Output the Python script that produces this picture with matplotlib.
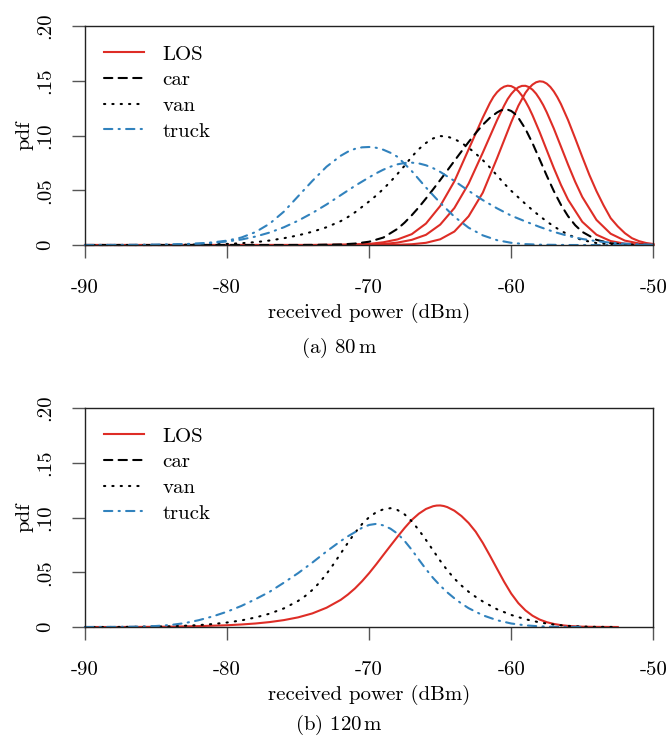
import matplotlib
matplotlib.use("Agg")
import matplotlib.pyplot as plt

plt.rcParams.update({"font.family": ["cmr10", "DejaVu Serif"], "mathtext.fontset": "cm",
                     "axes.unicode_minus": False, "font.size": 15})

C_LOS, C_CAR, C_VAN, C_TRUCK = "#DE2D26", "black", "black", "#3182BD"

# ---------------------------------------------------------------- (a) 80 m
los80_1_dbm = [-90, -74, -72, -70, -69, -68, -67, -66, -65, -64, -63, -62, -61.5, -61.25, -61,
               -60.75, -60.5, -60.25, -60, -59.75, -59.5, -59.25, -59, -58.75, -58.5, -58, -57.5,
               -57, -56.5, -56, -55, -54, -53, -52, -51, -50]
los80_1_pdf = [0, 0, 0.0002, 0.001, 0.0025, 0.0051, 0.0099, 0.0196, 0.0356, 0.0582, 0.0873, 0.1164,
               0.1297, 0.1353, 0.1395, 0.1426, 0.1446, 0.1455, 0.1451, 0.1434, 0.1405, 0.1365,
               0.1313, 0.1253, 0.1184, 0.1031, 0.0866, 0.0702, 0.0549, 0.0414, 0.0212, 0.0094,
               0.0036, 0.0012, 0.0003, 0.0001]
los80_2_dbm = [-90, -74, -71, -69, -68, -67, -66, -65, -64, -63, -62, -61, -60.5, -60.25, -60,
               -59.75, -59.5, -59.25, -59, -58.75, -58.5, -58.25, -58, -57.75, -57.5, -57, -56.5,
               -56, -55.5, -55, -54, -53, -52, -51, -50]
los80_2_pdf = [0, 0, 0.0002, 0.0009, 0.0022, 0.0047, 0.0093, 0.0186, 0.0338, 0.056, 0.0844, 0.1139,
               0.1273, 0.1333, 0.1379, 0.1415, 0.144, 0.1453, 0.1454, 0.1442, 0.1418, 0.1382,
               0.1334, 0.1278, 0.1212, 0.1063, 0.0899, 0.0734, 0.0578, 0.0439, 0.0229, 0.0103,
               0.004, 0.0014, 0.0004]
los80_3_dbm = [-90, -72, -69, -68, -67, -66, -65, -64, -63, -62, -61, -60, -59.5, -59, -58.75,
               -58.5, -58.25, -58, -57.75, -57.5, -57.25, -57, -56.75, -56.5, -56, -55.5, -55,
               -54.5, -54, -53.5, -53, -52.5, -52, -51.5, -51, -50.5, -50]
los80_3_pdf = [0, 0, 0.0001, 0.0002, 0.0007, 0.002, 0.0052, 0.0123, 0.0262, 0.0478, 0.0792, 0.1121,
               0.1271, 0.139, 0.1433, 0.1465, 0.1486, 0.1495, 0.1491, 0.1474, 0.1444, 0.1402,
               0.1349, 0.1287, 0.1141, 0.0975, 0.0805, 0.064, 0.0492, 0.0362, 0.0245, 0.017,
               0.0108, 0.0062, 0.0035, 0.0018, 0.0009]
car80_dbm = [-90, -76, -74, -72, -71, -70, -69, -68, -67.5, -67, -66.5, -66, -65.5, -65, -64.5, -64,
             -63.5, -63, -62.5, -62, -61.5, -61, -60.75, -60.5, -60.25, -60, -59.75, -59.5, -59,
             -58.5, -58, -57.5, -57, -56.5, -56, -55.5, -55, -54, -53, -52, -50]
car80_pdf = [0, 0, 0.0001, 0.0005, 0.0013, 0.003, 0.0068, 0.0148, 0.0205, 0.0272, 0.0345, 0.0425,
             0.0508, 0.0593, 0.068, 0.0768, 0.0855, 0.094, 0.1022, 0.1098, 0.1162, 0.121, 0.1228,
             0.1238, 0.1236, 0.1224, 0.1199, 0.1162, 0.106, 0.0929, 0.0782, 0.0633, 0.0492,
             0.0367, 0.0263, 0.0181, 0.012, 0.0047, 0.0016, 0.0004, 0]
van80_dbm = [-90, -86, -84, -82, -80, -79, -78, -77, -76, -75, -74, -73, -72, -71.5, -71, -70.5, -70,
             -69.5, -69, -68.5, -68, -67.5, -67, -66.5, -66, -65.5, -65, -64.5, -64, -63.5, -63,
             -62.5, -62, -61.5, -61, -60.5, -60, -59.5, -59, -58.5, -58, -57.5, -57, -56.5, -56,
             -55.5, -55, -54, -53, -52, -50]
van80_pdf = [0, 0, 0.0001, 0.0004, 0.001, 0.0016, 0.0026, 0.0041, 0.0062, 0.0088, 0.0121, 0.0162,
             0.0218, 0.0255, 0.0298, 0.0348, 0.0398, 0.0452, 0.0512, 0.0578, 0.065, 0.0725, 0.0806,
             0.0876, 0.0932, 0.0973, 0.0995, 0.099, 0.0968, 0.0933, 0.0888, 0.0835, 0.0775, 0.0708,
             0.0635, 0.0562, 0.0495, 0.0435, 0.0375, 0.0318, 0.0265, 0.0215, 0.017, 0.013, 0.0096,
             0.0068, 0.0045, 0.0018, 0.0006, 0.0002, 0]
truck80_1_dbm = [-90, -86, -84, -83, -82, -81, -80, -79, -78, -77, -76, -75, -74, -73, -72, -71.5,
                 -71, -70.5, -70, -69.5, -69, -68.5, -68, -67, -66, -65, -64, -63, -62, -61, -60,
                 -59, -58, -56, -50]
truck80_1_pdf = [0, 0.0001, 0.0004, 0.0008, 0.0014, 0.0024, 0.004, 0.0068, 0.0118, 0.0195, 0.0305,
                 0.0445, 0.0585, 0.0715, 0.0815, 0.0852, 0.0878, 0.0892, 0.0895, 0.0888, 0.087,
                 0.0842, 0.0805, 0.0675, 0.0525, 0.0385, 0.0258, 0.0158, 0.0088, 0.0044, 0.002,
                 0.0008, 0.0003, 0, 0]
truck80_2_dbm = [-90, -86, -84, -82, -81, -80, -79, -78, -77, -76, -75, -74, -73, -72, -71, -70,
                 -69.5, -69, -68.5, -68, -67.5, -67, -66.5, -66, -65.5, -65, -64, -63, -62, -61,
                 -60, -59, -58, -57, -56, -55, -54, -53, -52, -51, -50]
truck80_2_pdf = [0, 0.0001, 0.0004, 0.0012, 0.002, 0.0032, 0.005, 0.0077, 0.0114, 0.0162, 0.0222,
                 0.0292, 0.037, 0.0455, 0.054, 0.0618, 0.0655, 0.0688, 0.0715, 0.0737, 0.0749, 0.0752,
                 0.0745, 0.0728, 0.0702, 0.0668, 0.0585, 0.0495, 0.041, 0.0335, 0.0268, 0.0215,
                 0.0165, 0.012, 0.0083, 0.0055, 0.0035, 0.0021, 0.0012, 0.0006, 0.0003]

# ---------------------------------------------------------------- (b) 120 m
los120_dbm = [-90, -88, -86, -84, -82, -80, -79, -78, -77, -76, -75, -74, -73, -72, -71.5, -71,
              -70.5, -70, -69.5, -69, -68.5, -68, -67.5, -67, -66.5, -66, -65.5, -65.25, -65,
              -64.75, -64.5, -64, -63.5, -63, -62.5, -62, -61.5, -61, -60.5, -60, -59.5, -59, -58.5,
              -58, -57.5, -57, -56.5, -56, -55, -54, -52.5]
los120_pdf = [0, 0, 0.0001, 0.0003, 0.0008, 0.0016, 0.0023, 0.0032, 0.0045, 0.0063, 0.0088, 0.0124,
              0.0176, 0.0248, 0.0296, 0.0352, 0.0418, 0.0492, 0.0573, 0.0658, 0.0742, 0.0825,
              0.0905, 0.0978, 0.1035, 0.1078, 0.1103, 0.1109, 0.111, 0.1105, 0.1095, 0.1062,
              0.1013, 0.095, 0.087, 0.0768, 0.0652, 0.0532, 0.0413, 0.0305, 0.0218, 0.0152, 0.0103,
              0.0068, 0.0044, 0.0028, 0.0017, 0.001, 0.0003, 0.0001, 0]
van120_dbm = [-90, -88, -86, -84, -82, -81, -80, -79, -78, -77, -76, -75, -74.5, -74, -73.5, -73,
              -72.5, -72, -71.5, -71, -70.5, -70, -69.5, -69, -68.5, -68, -67.5, -67, -66.5, -66,
              -65.5, -65, -64.5, -64, -63.5, -63, -62.5, -62, -61, -60, -59, -58, -57, -56, -55,
              -54, -52.5]
van120_pdf = [0, 0, 0.0002, 0.0006, 0.0017, 0.0027, 0.0041, 0.006, 0.0087, 0.0122, 0.017, 0.0238,
              0.0283, 0.0338, 0.0405, 0.0485, 0.0575, 0.0672, 0.0768, 0.086, 0.094, 0.1003, 0.1048,
              0.1075, 0.1085, 0.1068, 0.1028, 0.0965, 0.0885, 0.0795, 0.07, 0.0605, 0.0518, 0.0442,
              0.0378, 0.0322, 0.0275, 0.0233, 0.0162, 0.011, 0.0071, 0.0042, 0.0022, 0.001, 0.0004,
              0.0001, 0]
truck120_dbm = [-90, -88, -86, -85, -84, -83, -82, -81, -80, -79, -78, -77, -76, -75, -74, -73, -72,
                -71.5, -71, -70.5, -70, -69.5, -69, -68.5, -68, -67.5, -67, -66.5, -66, -65.5, -65,
                -64.5, -64, -63.5, -63, -62, -61, -60, -59, -58, -57, -55]
truck120_pdf = [0, 0.0001, 0.0004, 0.0009, 0.0018, 0.0035, 0.0062, 0.0097, 0.014, 0.0192, 0.0254,
                0.0322, 0.0405, 0.0492, 0.0588, 0.069, 0.0785, 0.0828, 0.0866, 0.0906, 0.0932,
                0.0942, 0.0928, 0.0898, 0.0852, 0.0785, 0.0705, 0.0615, 0.0528, 0.0448, 0.0378,
                0.0316, 0.0262, 0.0214, 0.0172, 0.0107, 0.0062, 0.0032, 0.0015, 0.0006, 0.0002, 0]

x_ticks = [-90, -80, -70, -60, -50]
x_ticklabels = ["-90", "-80", "-70", "-60", "-50"]
y_ticks = [0, 0.05, 0.10, 0.15, 0.20]
y_ticklabels = ["0", ".05", ".10", ".15", ".20"]

LW = 1.5
sty_los = dict(color=C_LOS, lw=LW, ls="-")
sty_car = dict(color=C_CAR, lw=LW, ls=(0, (4, 3)), dash_capstyle="round")
sty_van = dict(color=C_VAN, lw=LW, ls=(0, (0.6, 3.4)), dash_capstyle="round")
sty_truck = dict(color=C_TRUCK, lw=LW, ls=(0, (4, 3, 0.6, 3)), dash_capstyle="round")

W, H = 668, 738
fig = plt.figure(figsize=(W / 100, H / 100), dpi=100)
ax_a = fig.add_axes([85 / W, 1 - 245 / H, 568.3 / W, 219 / H])
ax_b = fig.add_axes([85 / W, 1 - 627 / H, 568.3 / W, 219 / H])


def frame(ax):
    ax.set_xlim(-90, -50)
    ax.set_ylim(0, 0.20)
    ax.set_xticks(x_ticks)
    ax.set_xticklabels(x_ticklabels)
    ax.set_yticks(y_ticks)
    ax.set_yticklabels(y_ticklabels, rotation=90, va="center")
    ax.tick_params(direction="out", length=9.5, width=1.0, color="#555555", pad=13,
                   labelsize=15)
    ax.tick_params(axis="x", pad=15)
    for s in ax.spines.values():
        s.set_color("#222222"); s.set_linewidth(1.0)
    ax.set_xlabel("received power (dBm)")
    ax.xaxis.set_label_coords(0.5, -68 / 219)
    ax.xaxis.label.set_va("center")
    ax.set_ylabel("pdf")
    ax.yaxis.set_label_coords(-61 / 568.3, 0.5)
    ax.yaxis.label.set_va("center")
    ax.legend(loc="upper left", bbox_to_anchor=(19 / 568.3, 1 - 19 / 219), frameon=False,
              borderpad=0, borderaxespad=0, handlelength=1.9, handletextpad=0.9,
              labelspacing=0.34, fontsize=15)


# panel (a)
ax_a.plot(los80_1_dbm, los80_1_pdf, label="LOS", clip_on=False, **sty_los)
ax_a.plot(los80_2_dbm, los80_2_pdf, clip_on=False, **sty_los)
ax_a.plot(los80_3_dbm, los80_3_pdf, clip_on=False, **sty_los)
ax_a.plot(car80_dbm, car80_pdf, label="car", clip_on=False, **sty_car)
ax_a.plot(van80_dbm, van80_pdf, label="van", clip_on=False, **sty_van)
ax_a.plot(truck80_1_dbm, truck80_1_pdf, label="truck", clip_on=False, **sty_truck)
ax_a.plot(truck80_2_dbm, truck80_2_pdf, clip_on=False, **sty_truck)
frame(ax_a)

# panel (b) -- no car curve is drawn at 120 m, only its legend entry
ax_b.plot(los120_dbm, los120_pdf, label="LOS", clip_on=False, **sty_los)
ax_b.plot([], [], label="car", **sty_car)
ax_b.plot(van120_dbm, van120_pdf, label="van", clip_on=False, **sty_van)
ax_b.plot(truck120_dbm, truck120_pdf, label="truck", clip_on=False, **sty_truck)
frame(ax_b)

fig.text(339 / W, 1 - 348 / H, r"(a) 80$\,$m", ha="center", va="center", fontsize=15)
fig.text(339 / W, 1 - 725 / H, r"(b) 120$\,$m", ha="center", va="center", fontsize=15)

fig.savefig("out.png", dpi=100)
